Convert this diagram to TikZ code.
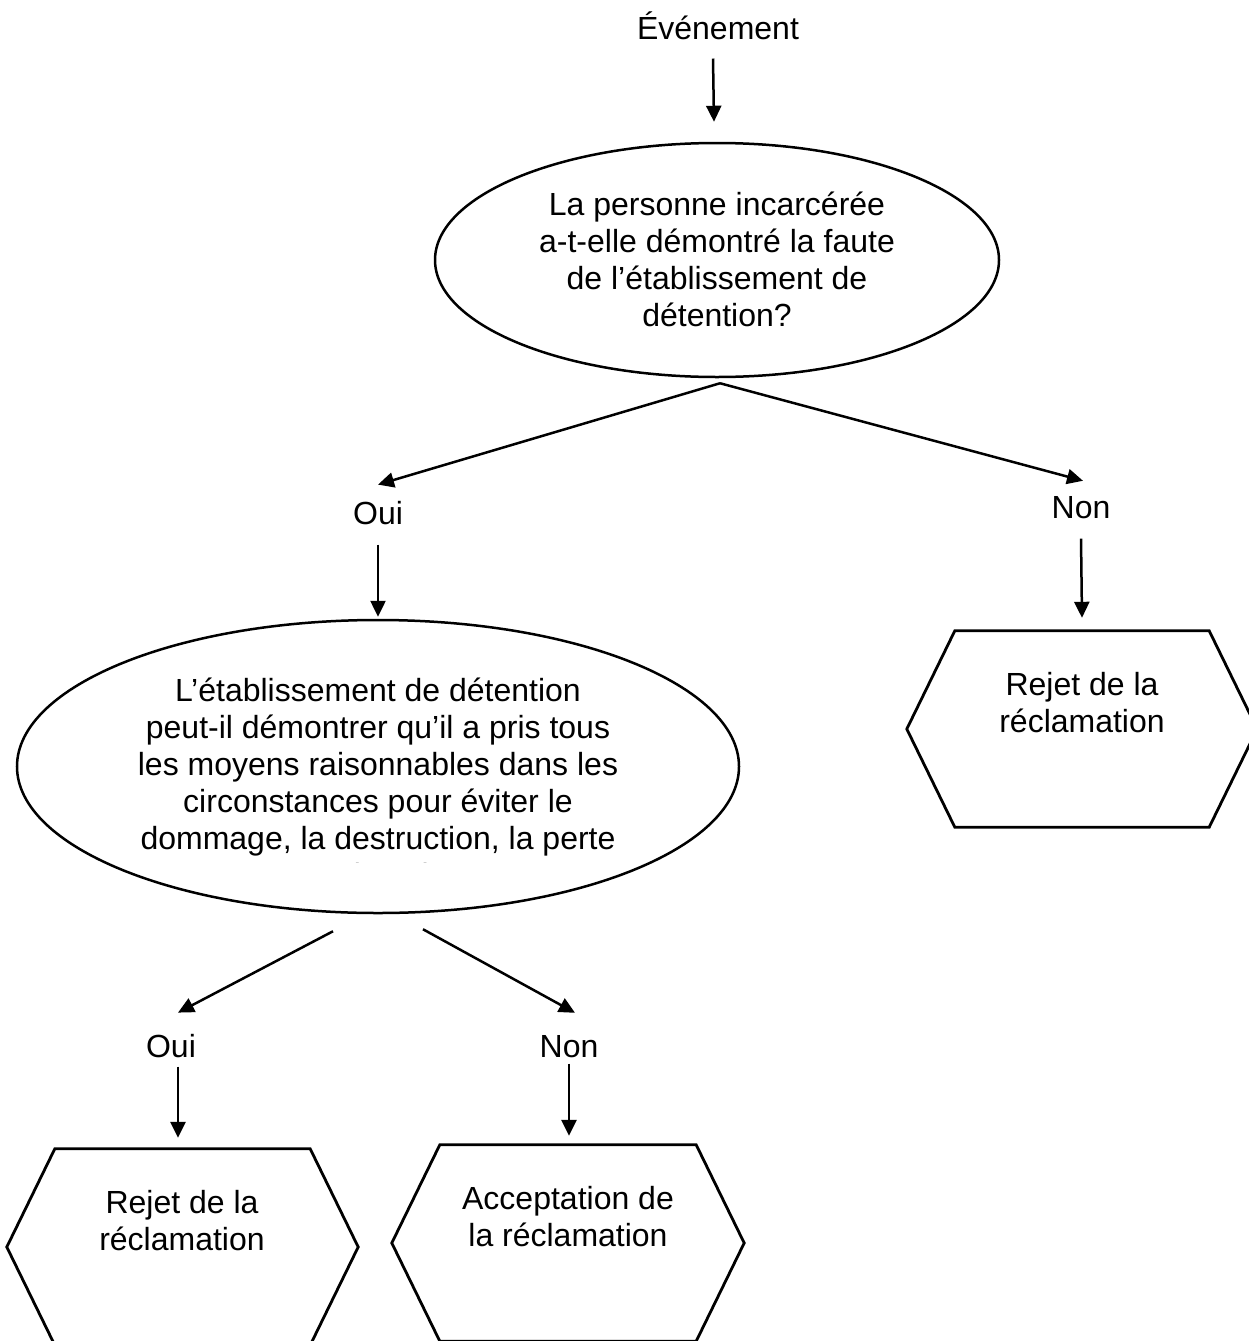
\documentclass[tikz,border=0pt]{standalone}
\usepackage{fontspec}
\setmainfont{Liberation Sans}
\usetikzlibrary{arrows.meta,shapes.geometric,calc}
\newcommand\hexpath[1]{%
  \draw[hexline] (#1.west) -- ($(#1.north west)+(48,0)$) -- ($(#1.north east)+(-48,0)$)
    -- (#1.east) -- ($(#1.south east)+(-48,0)$) -- ($(#1.south west)+(48,0)$) -- cycle;}
\begin{document}
\begin{tikzpicture}[x=1pt,y=-1pt,
  txt/.style={font=\fontsize{32}{37}\selectfont, align=center, inner sep=0pt},
  arr/.style={line width=2.5pt, -{Triangle[length=16pt,width=15pt]}},
  oval/.style={draw, ellipse, line width=2.5pt, inner sep=0pt},
  hexbox/.style={rectangle, inner sep=0pt, minimum height=196pt},
  hexline/.style={line width=2.8pt, line join=miter}]
\useasboundingbox[fill=white] (0,0) rectangle (1248,1341);

% nodes
\node[txt, anchor=base] (ev) at (718,39) {Événement};
\node[oval, minimum width=564pt, minimum height=234pt] (q1) at (717,260) {};
\node[txt, anchor=north] (q1t) at (717,192) {La personne incarcérée\\a-t-elle démontré la faute\\de l’établissement de\\détention?};

\node[txt, anchor=base] (oui1) at (378,524) {Oui};
\node[txt, anchor=base] (non1) at (1081,518) {Non};

\node[oval, minimum width=722pt, minimum height=293pt] (q2) at (378,766.5) {};
\begin{scope}
  \clip (0,600) rectangle (1248,862.5);
  \node[txt, anchor=north] (q2t) at (378,678) {L’établissement de détention\\peut-il démontrer qu’il a pris tous\\les moyens raisonnables dans les\\circonstances pour éviter le\\dommage, la destruction, la perte\\ou le vol?};
\end{scope}

\node[hexbox, minimum width=350pt] (h1) at (1082,729) {};
\hexpath{h1}
\node[txt, anchor=north] (h1t) at (1082,672) {Rejet de la\\réclamation};

\node[txt, anchor=base] (oui2) at (171,1057) {Oui};
\node[txt, anchor=base] (non2) at (569,1057) {Non};

\node[hexbox, minimum width=351pt] (h2) at (182.5,1247) {};
\hexpath{h2}
\node[txt, anchor=north] (h2t) at (182,1190) {Rejet de la\\réclamation};

\node[hexbox, minimum width=352pt] (h3) at (568,1243) {};
\hexpath{h3}
\node[txt, anchor=north] (h3t) at (568,1186) {Acceptation de\\la réclamation};

% connectors
\draw[arr] ($(ev.south)+(-5,19)$) -- ($(q1.north)+(-3,-20)$);
\draw[arr] ($(q1.south)+(3,5)$) -- ($(oui1.north)+(0,-16)$);
\draw[arr] ($(q1.south)+(3,5)$) -- ($(non1.north)+(2,-15)$);
\draw[arr] ($(oui1.south)+(0,20)$) -- ($(q2.north)+(0,-2)$);
\draw[arr] ($(non1.south)+(0,20)$) -- ($(h1.north)+(0,-13)$);
\draw[arr] ($(q2.south)+(-45,17)$) -- ($(oui2.north)+(7,-21)$);
\draw[arr] ($(q2.south)+(45,15)$) -- ($(non2.north)+(6,-22)$);
\draw[arr] ($(oui2.south)+(7,9)$) -- ($(h2.north)+(-4.5,-11)$);
\draw[arr] ($(non2.south)+(0,6)$) -- ($(h3.north)+(1,-9)$);
\end{tikzpicture}
\end{document}
